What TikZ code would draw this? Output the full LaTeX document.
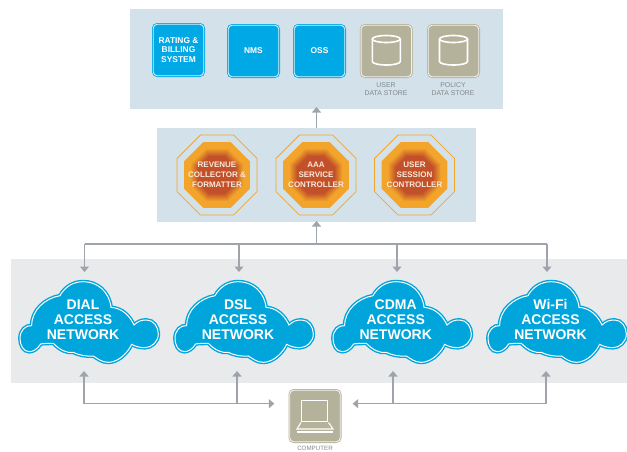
\documentclass[tikz,border=0pt]{standalone}
\usepackage{fontspec}
\setmainfont{Liberation Sans}
\usetikzlibrary{arrows.meta}
\definecolor{panelblue}{HTML}{D3E2EA}
\definecolor{panelgrey}{HTML}{E9EAEC}
\definecolor{boxblue}{HTML}{00A8E6}
\definecolor{cloudblue}{HTML}{00A5DB}
\definecolor{beige}{HTML}{B5B29B}
\definecolor{linegrey}{HTML}{9FA4AB}
\definecolor{labelgrey}{HTML}{83878C}
\definecolor{glowA}{HTML}{F2A52A}
\definecolor{glowB}{HTML}{C2512A}
\definecolor{octtext}{HTML}{FCE8DA}
\newcommand{\octpath}[1]{(22.5:#1) -- (67.5:#1) -- (112.5:#1) -- (157.5:#1) -- (202.5:#1) -- (247.5:#1) -- (292.5:#1) -- (337.5:#1) -- cycle}
\tikzset{
  panel/.style={inner sep=0pt, outer sep=0pt, minimum width=#1},
  conn/.style={draw=linegrey, line width=1.2pt, -{Triangle[width=9pt,length=5.5pt]}},
  plainconn/.style={draw=linegrey, line width=1.2pt},
  tilebox/.style={draw=#1, fill=#1, line width=.8pt, double=white!85!#1, double distance=.9pt,
    rounded corners=4pt, minimum width=50.5pt, minimum height=51.5pt, inner sep=0pt,
    align=center, text=white, font=\fontsize{8.4}{9.6}\selectfont\bfseries},
  storelabel/.style={text=labelgrey, align=center, inner sep=0pt, font=\fontsize{6.9}{8}\selectfont},
  octlabel/.style={text=octtext, align=center, inner sep=0pt, font=\fontsize{8}{10}\selectfont\bfseries},
  cloudlabel/.style={text=white, align=center, inner sep=0pt, font=\fontsize{14}{15.2}\selectfont\bfseries},
  cylinder line/.style={draw=white, line width=1.6pt},
  octo/.pic={
    \draw[glowA, line width=.8pt] \octpath{43.3};
    \fill[glowA] \octpath{35.7};
    \foreach \s in {0,...,8}{
      \pgfmathsetmacro{\r}{(27-\s)*1.0824}
      \pgfmathsetmacro{\p}{\s*12.5}
      \fill[glowB!\p!glowA] \octpath{\r};
    }
  },
  cylpic/.pic={
    \draw[cylinder line] (0,-12) ellipse [x radius=14, y radius=3.5];
    \draw[cylinder line] (-14,-12) -- (-14,10.5) arc [start angle=180, end angle=0, x radius=14, y radius=3.5] -- (14,-12);
  },
  cloudpic/.pic={
    \path[x=.3333pt, y=-.3333pt, fill=cloudblue, draw=cloudblue, line width=1.4pt, double=white, double distance=1pt]
      (30,190) .. controls (30,165) and (48,150) .. (65,152)
      .. controls (65,105) and (105,70) .. (150,62)
      .. controls (165,35) and (190,20) .. (220,20)
      .. controls (262,20) and (298,50) .. (303,97)
      .. controls (340,100) and (360,125) .. (372,150)
      .. controls (385,138) and (395,135) .. (410,135)
      .. controls (430,135) and (445,155) .. (445,177)
      .. controls (445,200) and (425,218) .. (405,218)
      .. controls (390,218) and (378,215) .. (365,208)
      .. controls (350,240) and (320,262) .. (295,262)
      .. controls (275,262) and (262,250) .. (250,243)
      .. controls (230,245) and (205,240) .. (190,232)
      .. controls (170,235) and (150,225) .. (130,205)
      .. controls (115,205) and (100,205) .. (92,207)
      .. controls (82,222) and (70,230) .. (58,230)
      .. controls (40,230) and (30,210) .. (30,190) -- cycle;
  }
}
\begin{document}
\begin{tikzpicture}[x=1pt, y=-1pt]
\useasboundingbox (0,0) rectangle (627,451);
% panels
\node[panel=372.5pt, minimum height=99.5pt, fill=panelblue] (toppanel) at (316.25,58.75) {};
\node[panel=319pt, minimum height=94pt, fill=panelblue] (midpanel) at (316.5,175) {};
\node[panel=616pt, minimum height=124pt, fill=panelgrey] (netpanel) at (319,321) {};
% top boxes
\node[tilebox=boxblue] (rating) at (178.5,50) {RATING \&\\BILLING\\SYSTEM};
\node[tilebox=boxblue] (nms) at (253.5,51) {NMS};
\node[tilebox=boxblue] (oss) at (319.5,51) {OSS};
\node[tilebox=beige] (userstore) at (386.3,51) {};
\node[tilebox=beige] (policystore) at (453.5,51) {};
\pic at (userstore.center) {cylpic};
\pic at (policystore.center) {cylpic};
\node[storelabel] (userlabel) at (386,89.5) {USER\\DATA STORE};
\node[storelabel] (policylabel) at (453,89.5) {POLICY\\DATA STORE};
% octagons
\pic at (217,175) {octo};
\pic at (316,175) {octo};
\pic at (414.5,175) {octo};
\node[octlabel] (revenue) at (217,175) {REVENUE\\COLLECTOR \&\\FORMATTER};
\node[octlabel] (aaa) at (316,175) {AAA\\SERVICE\\CONTROLLER};
\node[octlabel] (session) at (414.5,175) {USER\\SESSION\\CONTROLLER};
% clouds
\pic at (10,275) {cloudpic};
\pic at (165,275) {cloudpic};
\pic at (323,275) {cloudpic};
\pic at (478,275) {cloudpic};
\node[cloudlabel] (dial) at (83,319.7) {DIAL\\ACCESS\\NETWORK};
\node[cloudlabel] (dsl) at (238,319.7) {DSL\\ACCESS\\NETWORK};
\node[cloudlabel] (cdma) at (395.7,319.7) {CDMA\\ACCESS\\NETWORK};
\node[cloudlabel] (wifi) at (550.5,319.7) {Wi-Fi\\ACCESS\\NETWORK};
% computer
\node[tilebox=beige] (computer) at (315,416) {};
\draw[white, line width=1.2pt] ([shift={(-13.3,-15.3)}]computer.center) rectangle ([shift={(12.7,5.7)}]computer.center);
\draw[white, line width=1.1pt] ([shift={(-14,6.5)}]computer.center) -- ([shift={(-18,13)}]computer.center) -- ([shift={(18,13)}]computer.center) -- ([shift={(13.5,6.5)}]computer.center);
\draw[white, line width=1.4pt] ([shift={(-18,15.8)}]computer.center) -- ([shift={(18,15.8)}]computer.center);
\node[storelabel, font=\fontsize{6.2}{7}\selectfont] (computerlabel) at (315,448.2) {COMPUTER};
% connector anchors
\coordinate (busL) at (84.5,244);
\coordinate (busR) at (547,244);
\coordinate (busM) at (midpanel.south |- busL);
\coordinate (dialIn) at (84.5,272);
\coordinate (dslIn) at (239,272);
\coordinate (cdmaIn) at (397,272);
\coordinate (wifiIn) at (547,272);
\coordinate (lowL) at (84,403.7);
\coordinate (lowR) at (546,403.7);
\coordinate (dialOut) at (84,371);
\coordinate (dslOut) at (237,371);
\coordinate (cdmaOut) at (393,371);
\coordinate (wifiOut) at (546,371);
% connectors
\draw[conn] (midpanel.north) -- ([yshift=1.5pt]midpanel.north |- toppanel.south);
\draw[conn] (busM) -- ([yshift=1pt]midpanel.south);
\draw[plainconn] (busL) -- (busR);
\draw[conn] (busL) -- (dialIn);
\draw[conn] (dslIn |- busL) -- (dslIn);
\draw[conn] (cdmaIn |- busL) -- (cdmaIn);
\draw[conn] (busR) -- (wifiIn);
\draw[conn] (lowL) -- (dialOut);
\draw[conn] (dslOut |- lowL) -- (dslOut);
\draw[conn] (cdmaOut |- lowR) -- (cdmaOut);
\draw[conn] (lowR) -- (wifiOut);
\draw[conn] (lowL) -- ([xshift=-15pt]computer.west |- lowL);
\draw[conn] (lowR) -- ([xshift=12pt]computer.east |- lowR);
\end{tikzpicture}
\end{document}
